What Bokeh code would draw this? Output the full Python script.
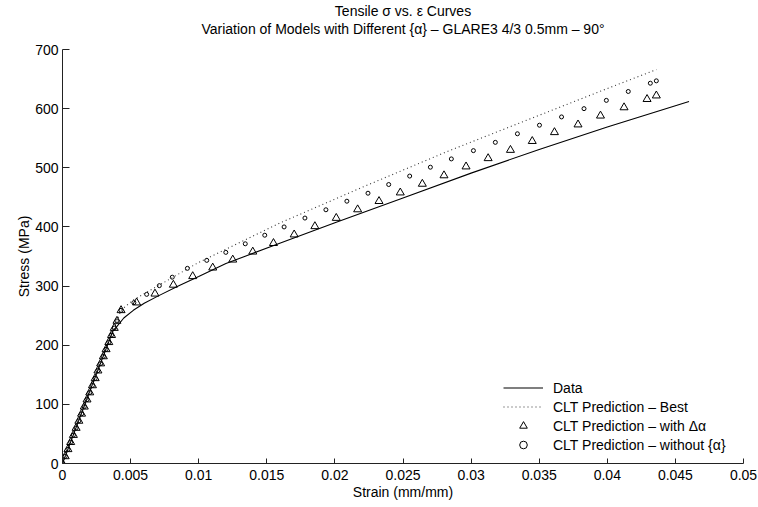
from bokeh.plotting import figure
from bokeh.models import Range1d, FixedTicker, Title, Legend, LegendItem, CustomJSTickFormatter
from bokeh.embed import file_html
from bokeh.resources import INLINE

# ---- data ----
data_strain = [0.0, 0.0020, 0.0037, 0.0040, 0.0045, 0.0052, 0.0060, 0.0070, 0.0085, 0.0100,
               0.0120, 0.0160, 0.0200, 0.0250, 0.0300, 0.0350, 0.0400, 0.0460]
data_stress = [0, 122, 224, 232, 246, 259, 271, 283, 300, 316,
               338, 373, 407, 449, 491, 531, 569, 612]

best_strain = [0.0, 0.0043, 0.0051, 0.0100, 0.0160, 0.0220, 0.0283, 0.0337, 0.0400, 0.0436]
best_stress = [0, 259, 275, 340, 407, 467, 528, 577, 634, 666]

tri_strain = [0.0000, 0.0002, 0.0004, 0.0006, 0.0008, 0.0010, 0.0012, 0.0014, 0.0016, 0.0018,
              0.0020, 0.0022, 0.0024, 0.0026, 0.0028, 0.0030, 0.0032, 0.0034, 0.0036, 0.0038,
              0.0040, 0.0043, 0.00544, 0.00679, 0.00814, 0.00956, 0.01103, 0.0125, 0.01397, 0.01549,
              0.01701, 0.01853, 0.0201, 0.02167, 0.02324, 0.0248, 0.02642, 0.02801, 0.02963, 0.03125,
              0.03289, 0.03449, 0.03612, 0.03785, 0.0395, 0.04123, 0.04292, 0.0436]
tri_stress = [0, 12, 24, 36, 48, 60, 72, 84, 96, 108,
              120, 132, 144, 157, 169, 181, 193, 205, 217, 229,
              241, 259, 272, 287, 302, 316.5, 331, 344.5, 358, 372.5,
              387, 401, 415, 429.5, 443.5, 458, 472.7, 487, 502, 516,
              530, 545, 560, 573, 588, 602, 616, 622]

circ_strain = [0.0000, 0.0002, 0.0004, 0.0006, 0.0008, 0.0010, 0.0012, 0.0014, 0.0016, 0.0018,
               0.0020, 0.0022, 0.0024, 0.0026, 0.0028, 0.0030, 0.0032, 0.0034, 0.0036, 0.0038,
               0.0040, 0.0043, 0.00524, 0.00618, 0.00711, 0.00806, 0.00917, 0.01059, 0.01199, 0.01342,
               0.01485, 0.01627, 0.0178, 0.01934, 0.02088, 0.02243, 0.02395, 0.02549, 0.02701, 0.02855,
               0.03017, 0.03178, 0.0334, 0.03502, 0.03664, 0.03829, 0.03993, 0.04154, 0.04316, 0.0436]
circ_stress = [0, 12, 24, 36, 48, 60, 72, 84, 96, 108,
               120, 132, 144, 157, 169, 181, 193, 205, 217, 229,
               241, 259, 272, 286, 300.7, 315, 330, 343.5, 357, 371.5,
               386, 400, 415, 429, 443.5, 457, 471.7, 486, 501, 515,
               529, 543, 557.5, 572, 586, 600, 614, 629, 643, 647]

x_ticks = [0, 0.005, 0.01, 0.015, 0.02, 0.025, 0.03, 0.035, 0.04, 0.045, 0.05]
x_tick_labels = ["0", "0.005", "0.01", "0.015", "0.02", "0.025", "0.03", "0.035", "0.04", "0.045", "0.05"]
y_ticks = [0, 100, 200, 300, 400, 500, 600, 700]
y_tick_labels = ["0", "100", "200", "300", "400", "500", "600", "700"]

title_line1 = "Tensile \u03c3 vs. \u03b5 Curves"
title_line2 = "Variation of Models with Different {\u03b1} \u2013 GLARE3 4/3 0.5mm \u2013 90\u00b0"
series_names = ["Data", "CLT Prediction \u2013 Best", "CLT Prediction \u2013 with \u0394\u03b1",
                "CLT Prediction \u2013 without {\u03b1}"]

FONT = "Liberation Sans"
FS = "14px"

p = figure(width=758, height=507, x_range=Range1d(0, 0.05), y_range=Range1d(0, 700),
           output_backend="svg", toolbar_location=None,
           min_border_left=62, min_border_right=15, min_border_top=48, min_border_bottom=44)
p.xgrid.visible = False
p.ygrid.visible = False
p.outline_line_color = None
p.background_fill_color = "white"
p.border_fill_color = "white"

# spacer between the frame and the two title lines
p.add_layout(Title(text=" ", align="center", text_font=FONT, text_font_size="10px",
                   standoff=0, offset=0), "above")
p.add_layout(Title(text=title_line2, align="center", text_font=FONT, text_font_size=FS,
                   text_font_style="normal", text_color="black", standoff=0, offset=0), "above")
p.add_layout(Title(text=title_line1, align="center", text_font=FONT, text_font_size=FS,
                   text_font_style="normal", text_color="black", standoff=0, offset=0), "above")

for ax, ticks, labels, tin in ((p.xaxis[0], x_ticks, x_tick_labels, 5), (p.yaxis[0], y_ticks, y_tick_labels, 7)):
    ax.ticker = FixedTicker(ticks=ticks)
    ax.formatter = CustomJSTickFormatter(args=dict(labels=labels), code="return labels[index];")
    ax.major_tick_in = tin
    ax.major_tick_out = 0
    ax.minor_tick_in = 0
    ax.minor_tick_out = 0
    ax.axis_line_color = "#222222"
    ax.major_tick_line_color = "#222222"
    ax.major_label_text_font = FONT
    ax.major_label_text_font_size = FS
    ax.major_label_text_color = "black"
    ax.axis_label_text_font = FONT
    ax.axis_label_text_font_size = FS
    ax.axis_label_text_font_style = "normal"
    ax.axis_label_text_color = "black"

p.xaxis.axis_label = "Strain (mm/mm)"
p.yaxis.axis_label = "Stress (MPa)"
p.xaxis.major_label_standoff = 6
p.xaxis.axis_label_standoff = 1
p.yaxis.major_label_standoff = 4
p.yaxis.axis_label_standoff = 0

r_data = p.line(data_strain, data_stress, line_color="black", line_width=1.1)
r_best = p.line(best_strain, best_stress, line_color="#333333", line_width=1.1, line_dash="1 3")
r_tri = p.scatter(tri_strain, tri_stress, marker="triangle", size=8, fill_color=None,
                  line_color="black", line_width=1)
r_circ = p.scatter(circ_strain, circ_stress, marker="circle", size=4, fill_color=None,
                   line_color="black", line_width=1)

legend = Legend(items=[LegendItem(label=series_names[0], renderers=[r_data]),
                       LegendItem(label=series_names[1], renderers=[r_best]),
                       LegendItem(label=series_names[2], renderers=[r_tri]),
                       LegendItem(label=series_names[3], renderers=[r_circ])],
                location=(441, 9), padding=0, margin=0, spacing=0,
                glyph_width=40, glyph_height=19, label_height=19, label_standoff=10,
                label_text_font=FONT, label_text_font_size=FS, label_text_color="black",
                border_line_alpha=0, background_fill_alpha=0)
p.add_layout(legend, "center")

open("out.html", "w").write(file_html(p, INLINE))
